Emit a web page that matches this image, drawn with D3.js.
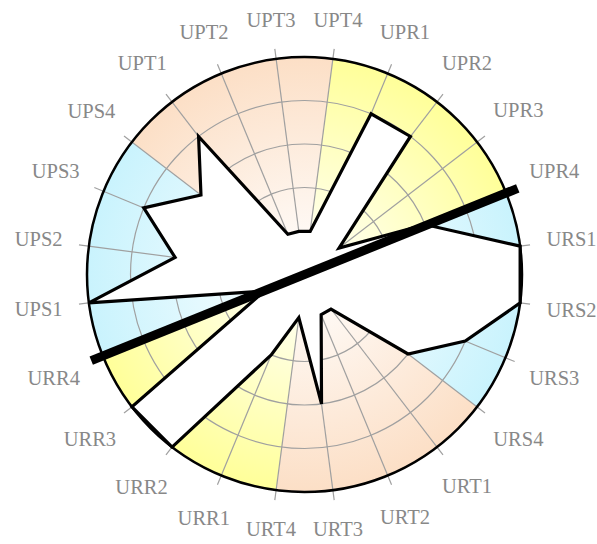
<!DOCTYPE html>
<html>
<head>
<meta charset="utf-8">
<script src="https://cdn.jsdelivr.net/npm/d3@7/dist/d3.min.js"></script>
<style>
  html, body { margin: 0; padding: 0; background: #fff; }
  svg { display: block; }
</style>
</head>
<body>
<svg id="chart" width="597" height="544"></svg>
<script>
// ---- data ----
const categories = ["UPT1","UPT2","UPT3","UPT4","UPR1","UPR2","UPR3","UPR4",
                    "URS1","URS2","URS3","URS4","URT1","URT2","URT3","URT4",
                    "URR1","URR2","URR3","URR4","UPS1","UPS2","UPS3","UPS4"];
const values = [4,1,1,1, 4,4,1,3, 5,5,4,3, 1,1,3,1, 2,5,5,1, 5,3,4,3];
const groupNames = ["UPT","UPR","URS","URT","URR","UPS"];
const ringTicks = [1,2,3,4,5];
const directionDeg = 68;   // heavy reference direction

// ---- styles / layout ----
const groupColor = { UPT: "#fcdfc6", UPR: "#ffff99", URS: "#c9f3fd",
                     URT: "#fcdfc6", URR: "#ffff99", UPS: "#c9f3fd" };
const W = 597, H = 544;
const cx = 304.5, cy = 274.5, R = 217.5;
const startDeg = -37.5;

const svg = d3.select("#chart");
const defs = svg.append("defs");
const g = svg.append("g").attr("transform", `translate(${cx},${cy})`);

const n = categories.length;
const angle = d3.scaleLinear().domain([0, n]).range([startDeg*Math.PI/180, (startDeg+360)*Math.PI/180]);
const r = d3.scaleLinear().domain([0, 5]).range([0, R]);

// gradients
Object.entries(groupColor).forEach(([k, c]) => {
  const gr = defs.append("radialGradient").attr("id", "grad-" + k)
    .attr("gradientUnits", "userSpaceOnUse").attr("cx", 0).attr("cy", 0).attr("r", R);
  gr.append("stop").attr("offset", 0).attr("stop-color", "#ffffff");
  gr.append("stop").attr("offset", 1).attr("stop-color", c);
});

// sectors
const arc = d3.arc().innerRadius(0).outerRadius(R);
g.selectAll("path.sector").data(groupNames).join("path")
  .attr("class", "sector")
  .attr("d", (d, i) => arc({ startAngle: angle(4*i - 1), endAngle: angle(4*i + 3) }))
  .attr("fill", d => `url(#grad-${d})`);

// rings
g.selectAll("circle.ring").data(ringTicks.slice(0, -1)).join("circle")
  .attr("class", "ring").attr("r", d => r(d))
  .attr("fill", "none").attr("stroke", "#a0a0a0").attr("stroke-width", 1.2);

// spokes
g.selectAll("line.spoke").data(categories).join("line")
  .attr("class", "spoke")
  .attr("x1", 0).attr("y1", 0)
  .attr("x2", (d, i) => Math.sin(angle(i)) * (R + 10))
  .attr("y2", (d, i) => -Math.cos(angle(i)) * (R + 10))
  .attr("stroke", "#a0a0a0").attr("stroke-width", 1.2);

// outer circle
g.append("circle").attr("r", r(ringTicks[ringTicks.length-1]))
  .attr("fill", "none").attr("stroke", "#000").attr("stroke-width", 2.5);

// data polygon
const radar = d3.lineRadial()
  .angle((d, i) => angle(i))
  .radius(d => r(d))
  .curve(d3.curveLinearClosed);
g.append("path").datum(values)
  .attr("d", radar)
  .attr("fill", "#fff").attr("stroke", "#000").attr("stroke-width", 3.2)
  .attr("stroke-linejoin", "miter");

// heavy direction line
const da = directionDeg * Math.PI / 180, L = 230;
g.append("line")
  .attr("x1", -Math.sin(da) * L).attr("y1", Math.cos(da) * L)
  .attr("x2", Math.sin(da) * L).attr("y2", -Math.cos(da) * L)
  .attr("stroke", "#000").attr("stroke-width", 9);

// labels
const labels = g.selectAll("text.lab").data(categories).join("text")
  .attr("class", "lab")
  .attr("font-family", "'Liberation Serif', 'Times New Roman', serif")
  .attr("font-size", "20.5px")
  .attr("fill", "#888")
  .attr("text-anchor", "middle")
  .attr("dy", "0.34em")
  .text(d => d);
labels.each(function(d, i) {
  const a = angle(i);
  const w = this.getComputedTextLength();
  const s = Math.sin(a), c = Math.cos(a);
  const dist = 243 + (w / 2) * Math.abs(s) + 11 * Math.abs(c);
  d3.select(this).attr("x", s * dist).attr("y", -c * dist);
});
</script>
</body>
</html>
